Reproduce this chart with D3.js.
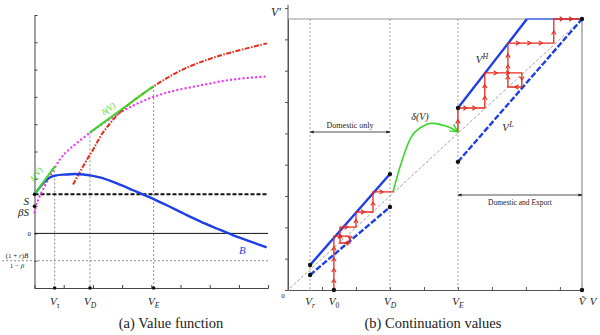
<!DOCTYPE html>
<html><head><meta charset="utf-8">
<script src="https://cdn.jsdelivr.net/npm/d3@7"></script>
<style>body{margin:0;background:#fff}svg{display:block}</style>
</head><body><svg id="c" width="600" height="335"></svg>
<script>
// ---------- Panel (a): value function ----------
const leftXTicks = [0,1,2,3,4,5,6,7,8];
const leftYTicks = [-2,-1,0,1,2,3,4,5,6,7,8];
const leftXMarkNames = ["τ","D","E"];
const leftXMarkValues = [0.69, 1.9, 4.08];
const levelS = 1.43, levelBetaS = 0.99, levelBbar = -1.0;
const curveB = [[0,1.43],[0.53,2.05],[1.10,2.16],[1.67,2.16],[2.24,2.05],[2.82,1.83],[3.38,1.58],[3.95,1.32],[4.53,1.03],[5.10,0.73],[5.67,0.44],[6.24,0.18],[6.81,-0.07],[7.38,-0.29],[7.95,-0.51]];
const curveOutside = [[0,0.77],[0.09,1.14],[0.29,1.61],[0.53,2.09],[0.87,2.71],[1.11,3.0],[1.97,3.74],[2.83,4.36],[3.61,4.80],[4.54,5.16],[5.67,5.42],[6.80,5.64],[7.96,5.75]];
const curveExport = [[1.32,1.79],[1.80,2.71],[1.97,3.0],[2.35,3.70],[3.03,4.54],[4.13,5.42],[5.09,6.01],[6.25,6.48],[7.96,6.96]];
const greenShort = [[0,1.43],[0.69,2.45]];
const greenLong = [[1.9,3.70],[4.08,5.40]];

// ---------- Panel (b): continuation values ----------
const rightXTicks = [0,1,2,3,4,5,6,7,8];
const rightYTicks = [0,1,2,3,4,5,6,7,8,9];
const Vr = 0.65, V0 = 1.35, VD = 3.0, VE = 5.0, Vbar = 8.65;
const VHlow = [[0.65,0.80],[3.0,3.70]];
const VLlow = [[0.65,0.48],[3.0,2.65]];
const VHhigh = [[5.0,5.81],[7.03,8.65]];
const VHtop = [[7.03,8.65],[8.65,8.65]];
const VLhigh = [[5.0,4.09],[8.65,8.65]];
const deltaCurve = [[3.09,3.13],[3.35,4.11],[3.68,4.97],[4.09,5.29],[4.26,5.32],[4.76,5.19],[5.0,5.05]];
const cobwebLow = [[1.35,0],[1.35,1.72],[1.82,1.72],[1.82,1.50],[1.53,1.50],[1.53,2.01],[2.0,2.01],[2.0,2.49],[2.5,2.49],[2.5,3.13],[3.09,3.13]];
const cobwebHigh = [[5.0,5.05],[5.0,5.81],[5.79,5.81],[5.79,6.93],[6.88,6.93],[6.88,6.48],[6.47,6.48],[6.47,7.88],[7.82,7.88],[7.82,8.65],[8.65,8.65]];
const rightXMarkNames = ["r","0","D","E"];
const rightXMarkValues = [Vr, V0, VD, VE];

const svg = d3.select("#c");
const serif = "'Liberation Serif','DejaVu Serif',serif";
const BLUE = "#1f3fe6", RED = "#e62a1c", MAG = "#ee3cee", GREEN = "#3ad826";

const xL = d3.scaleLinear().domain([0,8]).range([34.5,268.1]);
const yL = d3.scaleLinear().domain([-2,8]).range([288,15]);
const xR = d3.scaleLinear().domain([0,8.65]).range([288,582]);
const yR = d3.scaleLinear().domain([0,8.65]).range([290,19]);

function lineGen(xs, ys, curve){ return d3.line().x(d=>xs(d[0])).y(d=>ys(d[1])).curve(curve||d3.curveLinear); }

function vlabel(g, x, y, sub, opts){
  opts = opts||{};
  const sz = opts.size||11;
  const t = g.append("text").attr("x",x).attr("y",y).attr("text-anchor",opts.anchor||"middle")
    .attr("font-family",serif).attr("font-size",sz).attr("fill",opts.fill||"#222");
  t.append("tspan").attr("font-style","italic").text(opts.base||"V");
  if(sub!=null) t.append("tspan").attr("font-size",sz*0.68).attr("dy",2.5)
    .attr("font-style", /[0-9]/.test(sub)?"normal":"italic").text(sub);
  if(opts.sup) t.append("tspan").attr("font-size",sz*0.75).attr("dy",-4.5).attr("dx",0.5).attr("font-style","italic").text(opts.sup);
  return t;
}

// ================= LEFT PANEL =================
const gL = svg.append("g");
gL.append("g").attr("transform",`translate(0,${yL(-2)})`)
  .call(d3.axisBottom(xL).tickValues(leftXTicks).tickSize(-3).tickSizeOuter(0).tickFormat(""))
  .call(a=>{a.select(".domain").attr("stroke","#444");a.selectAll(".tick line").attr("stroke","#444");});
gL.append("g").attr("transform",`translate(${xL(0)},0)`)
  .call(d3.axisRight(yL).tickValues(leftYTicks).tickSize(3).tickSizeOuter(0).tickFormat(""))
  .call(a=>{a.select(".domain").attr("stroke","#444");a.selectAll(".tick line").attr("stroke","#444");});

const vDotTop = [greenShort[1][1], greenLong[0][1], greenLong[1][1]];
leftXMarkValues.forEach((v,i)=>{
  gL.append("line").attr("x1",xL(v)).attr("x2",xL(v)).attr("y1",yL(vDotTop[i])).attr("y2",yL(-2))
    .attr("stroke","#777").attr("stroke-width",0.8).attr("stroke-dasharray","2,2");
});
gL.append("line").attr("x1",2).attr("x2",xL(8)).attr("y1",yL(levelBbar)).attr("y2",yL(levelBbar))
  .attr("stroke","#777").attr("stroke-width",0.8).attr("stroke-dasharray","2,2");
gL.append("line").attr("x1",xL(0)).attr("x2",xL(8)).attr("y1",yL(0)).attr("y2",yL(0))
  .attr("stroke","#111").attr("stroke-width",1);
gL.append("line").attr("x1",xL(0)).attr("x2",xL(8)).attr("y1",yL(levelS)).attr("y2",yL(levelS))
  .attr("stroke","#111").attr("stroke-width",2).attr("stroke-dasharray","4,2");

gL.append("path").attr("d",lineGen(xL,yL,d3.curveCatmullRom)(curveOutside)).attr("fill","none")
  .attr("stroke",MAG).attr("stroke-width",2.4).attr("stroke-linecap","round").attr("stroke-dasharray","0,4.2");
gL.append("path").attr("d",lineGen(xL,yL,d3.curveCatmullRom)(curveExport)).attr("fill","none")
  .attr("stroke",RED).attr("stroke-width",2).attr("stroke-dasharray","5,1.5,1.5,1.5");
gL.append("path").attr("d",lineGen(xL,yL,d3.curveCatmullRom)(curveB)).attr("fill","none")
  .attr("stroke",BLUE).attr("stroke-width",2.4);
[greenShort, greenLong].forEach(gd=>{
  gL.append("path").attr("d",lineGen(xL,yL)(gd)).attr("fill","none").attr("stroke",GREEN).attr("stroke-width",2);
});
function rotLabel(g, x, y, ang, txt, size, fill){
  g.append("text").attr("transform",`translate(${x},${y}) rotate(${ang})`).attr("text-anchor","middle")
    .attr("font-family",serif).attr("font-style","italic").attr("font-size",size).attr("fill",fill).text(txt);
}
rotLabel(gL, xL(2.59), yL(4.48), -35, "δ(V)", 8.5, GREEN);
rotLabel(gL, xL(0.14), yL(2.1), -55, "δ(V)", 8.5, GREEN);

[[0,levelS],[0,levelBetaS]].forEach(d=>gL.append("circle").attr("cx",xL(d[0])).attr("cy",yL(d[1])).attr("r",1.8).attr("fill","#111"));
leftXMarkValues.forEach(v=>gL.append("circle").attr("cx",xL(v)).attr("cy",yL(-2)).attr("r",1.8).attr("fill","#111"));

gL.append("text").attr("x",29).attr("y",yL(levelS)+11).attr("text-anchor","end").attr("font-family",serif)
  .attr("font-style","italic").attr("font-size",11).attr("fill","#222").text("S");
gL.append("text").attr("x",29).attr("y",yL(levelS)+22).attr("text-anchor","end").attr("font-family",serif)
  .attr("font-style","italic").attr("font-size",11).attr("fill","#222").text("βS");
gL.append("text").attr("x",31).attr("y",yL(0)+2.5).attr("text-anchor","end").attr("font-family",serif)
  .attr("font-size",7).attr("fill","#222").text("0");
const fr = gL.append("text").attr("x",17).attr("y",yL(levelBbar)-2.5).attr("text-anchor","middle")
  .attr("font-family",serif).attr("font-size",7).attr("fill","#222");
fr.append("tspan").text("(1 + ");
fr.append("tspan").attr("font-style","italic").text("r");
fr.append("tspan").text(")");
fr.append("tspan").attr("font-style","italic").text("B̄");
const fd = gL.append("text").attr("x",17).attr("y",yL(levelBbar)+7.5).attr("text-anchor","middle")
  .attr("font-family",serif).attr("font-size",7).attr("fill","#222");
fd.append("tspan").text("1 − ");
fd.append("tspan").attr("font-style","italic").text("β");
gL.append("text").attr("x",xL(7.0)).attr("y",yL(-0.75)).attr("font-family",serif).attr("font-style","italic")
  .attr("font-size",11).attr("fill",BLUE).text("B");
leftXMarkValues.forEach((v,i)=>vlabel(gL, xL(v), 305, leftXMarkNames[i]));
gL.append("text").attr("x",171).attr("y",328).attr("text-anchor","middle").attr("font-family",serif)
  .attr("font-size",14.5).attr("fill","#222").text("(a) Value function");

// ================= RIGHT PANEL =================
const gR = svg.append("g");
gR.append("g").attr("transform",`translate(0,${yR(0)})`)
  .call(d3.axisBottom(xR).tickValues(rightXTicks).tickSize(-3).tickSizeOuter(0).tickFormat(""))
  .call(a=>{a.select(".domain").attr("stroke","#555");a.selectAll(".tick line").attr("stroke","#555");});
gR.append("g").attr("transform",`translate(${xR(0)},0)`)
  .call(d3.axisLeft(yR).tickValues(rightYTicks).tickSize(3).tickSizeOuter(0).tickFormat(""))
  .call(a=>{a.select(".domain").attr("stroke","#555");a.selectAll(".tick line").attr("stroke","#555");});
gR.append("line").attr("x1",xR(0)).attr("x2",xR(0)).attr("y1",yR(9.1)).attr("y2",yR(0)).attr("stroke","#555");
gR.append("line").attr("x1",xR(0)).attr("x2",xR(Vbar)).attr("y1",yR(Vbar)).attr("y2",yR(Vbar)).attr("stroke","#888").attr("stroke-width",0.9);
gR.append("line").attr("x1",xR(Vbar)).attr("x2",xR(Vbar)).attr("y1",yR(Vbar)).attr("y2",yR(0)).attr("stroke","#777").attr("stroke-width",1);
[Vr, VD, VE].forEach(v=>gR.append("line").attr("x1",xR(v)).attr("x2",xR(v)).attr("y1",yR(Vbar)).attr("y2",yR(0))
  .attr("stroke","#888").attr("stroke-width",0.8).attr("stroke-dasharray","2,2"));
gR.append("line").attr("x1",xR(0.06)).attr("y1",yR(0.06)).attr("x2",xR(8.5)).attr("y2",yR(8.5))
  .attr("stroke","#888").attr("stroke-width",0.8).attr("stroke-dasharray","3,2");

[VHlow, VHhigh].forEach(d=>gR.append("path").attr("d",lineGen(xR,yR)(d)).attr("stroke",BLUE).attr("stroke-width",2.4).attr("fill","none"));
gR.append("path").attr("d",lineGen(xR,yR)(VHtop)).attr("stroke","#4a6cf0").attr("stroke-width",1.6).attr("fill","none");
[VLlow, VLhigh].forEach(d=>gR.append("path").attr("d",lineGen(xR,yR)(d)).attr("stroke",BLUE).attr("stroke-width",2.4)
  .attr("stroke-dasharray","6,2").attr("fill","none"));

const defs = svg.append("defs");
defs.append("marker").attr("id","ga").attr("viewBox","0 0 10 10").attr("refX",9).attr("refY",5)
  .attr("markerWidth",6).attr("markerHeight",6).attr("orient","auto")
  .append("path").attr("d","M1,1 L9,5 L1,9").attr("fill","none").attr("stroke",GREEN).attr("stroke-width",1.5);
defs.append("marker").attr("id","ka").attr("viewBox","0 0 10 10").attr("refX",9).attr("refY",5)
  .attr("markerWidth",5).attr("markerHeight",5).attr("orient","auto-start-reverse")
  .append("path").attr("d","M0,1 L10,5 L0,9 Z").attr("fill","#222");
gR.append("path").attr("d",lineGen(xR,yR,d3.curveCatmullRom)(deltaCurve)).attr("fill","none")
  .attr("stroke",GREEN).attr("stroke-width",1.6).attr("marker-end","url(#ga)");

function cobweb(pts){
  gR.append("path").attr("d",lineGen(xR,yR)(pts)).attr("fill","none").attr("stroke",RED).attr("stroke-width",1.3);
  for(let i=0;i<pts.length-1;i++){
    const x1=xR(pts[i][0]), y1=yR(pts[i][1]), x2=xR(pts[i+1][0]), y2=yR(pts[i+1][1]);
    const L=Math.hypot(x2-x1,y2-y1); if(L<6) continue;
    const n=Math.max(1,Math.floor(L/13)); const ang=Math.atan2(y2-y1,x2-x1);
    for(let k=1;k<=n;k++){
      const f=k/(n+1), cx=x1+(x2-x1)*f, cy=y1+(y2-y1)*f;
      const c=Math.cos(ang), s=Math.sin(ang), b=3.5, w=2.2;
      const p1=[cx-b*c+w*s, cy-b*s-w*c], p2=[cx-b*c-w*s, cy-b*s+w*c];
      gR.append("path").attr("d",`M${p1[0]},${p1[1]}L${cx},${cy}L${p2[0]},${p2[1]}`)
        .attr("fill","none").attr("stroke",RED).attr("stroke-width",1.1);
    }
  }
}
cobweb(cobwebLow); cobweb(cobwebHigh);

[[Vbar,Vbar],[Vbar,0],[V0,0],VHlow[0],VHlow[1],VLlow[0],VLlow[1],VHhigh[0],VLhigh[0]].forEach(d=>
  gR.append("circle").attr("cx",xR(d[0])).attr("cy",yR(d[1])).attr("r",2.2).attr("fill","#111"));

gR.append("line").attr("x1",xR(Vr)).attr("x2",xR(VD)).attr("y1",132).attr("y2",132).attr("stroke","#222").attr("stroke-width",0.8)
  .attr("marker-start","url(#ka)").attr("marker-end","url(#ka)");
gR.append("text").attr("x",(xR(Vr)+xR(VD))/2).attr("y",128).attr("text-anchor","middle").attr("font-family",serif)
  .attr("font-size",8).attr("fill","#222").text("Domestic only");
gR.append("line").attr("x1",xR(VE)).attr("x2",xR(Vbar)).attr("y1",195).attr("y2",195).attr("stroke","#222").attr("stroke-width",0.8)
  .attr("marker-start","url(#ka)").attr("marker-end","url(#ka)");
gR.append("text").attr("x",(xR(VE)+xR(Vbar))/2).attr("y",205).attr("text-anchor","middle").attr("font-family",serif)
  .attr("font-size",7.5).attr("fill","#222").text("Domestic and Export");

vlabel(gR, 482, 63, null, {sup:"H", anchor:"middle", size:10.5});
vlabel(gR, 508, 131, null, {sup:"L", anchor:"middle", size:10.5});
gR.append("text").attr("x",420).attr("y",120).attr("text-anchor","middle").attr("font-family",serif)
  .attr("font-style","italic").attr("font-size",10).attr("fill","#222").text("δ(V)");
vlabel(gR, 276, 16, null, {base:"V′", size:12});
gR.append("text").attr("x",283).attr("y",298).attr("text-anchor","middle").attr("font-family",serif)
  .attr("font-size",7).attr("fill","#222").text("0");
rightXMarkValues.forEach((v,i)=>vlabel(gR, xR(v), 305, rightXMarkNames[i]));
vlabel(gR, xR(Vbar), 305, null, {base:"Ṽ"});
vlabel(gR, xR(Vbar)+11, 305, null, {});
gR.append("text").attr("x",433).attr("y",328).attr("text-anchor","middle").attr("font-family",serif)
  .attr("font-size",14.5).attr("fill","#222").text("(b) Continuation values");
</script></body></html>
